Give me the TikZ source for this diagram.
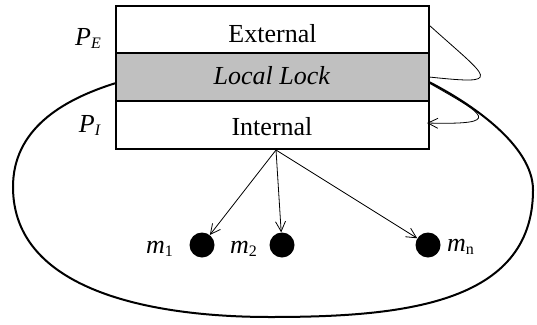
\documentclass[tikz,border=0pt]{standalone}
\usepackage{fontspec}
\setmainfont{Liberation Serif}
\usetikzlibrary{arrows.meta}
\newcommand{\subsz}{\fontsize{16}{16}\selectfont}
\begin{document}
\begin{tikzpicture}[x=1pt,y=1pt,
  row/.style={draw, line width=2pt, minimum width=313pt, inner sep=0pt, outer sep=0pt, anchor=north west},
  lbl/.style={font=\fontsize{26}{30}\selectfont, inner sep=0pt},
  dot/.style={circle, fill=black, minimum size=25pt, inner sep=0pt},
  arr/.style={-{Straight Barb[length=10pt,width=10pt]}, line width=0.8pt},
  thin/.style={line width=0.8pt},
  outer/.style={line width=2pt}]
\useasboundingbox (0,0) rectangle (537,-324);
% outer curve
\coordinate (oa) at (116,-83);
\coordinate (ol) at (13,-187);
\coordinate (ob) at (270,-317);
\coordinate (or) at (533,-190);
\coordinate (oc) at (429,-82);
\draw[outer] (oa) .. controls (61,-100) and (13,-130) .. (ol)
  .. controls (13,-290) and (150,-317) .. (ob)
  .. controls (400,-317) and (533,-305) .. (or)
  .. controls (533,-145) and (470,-103) .. (oc);
% box rows
\node[row, minimum height=47pt] (ext) at (116,-6) {};
\node[row, minimum height=48pt, fill={rgb,255:red,192;green,192;blue,192}] (lock) at (116,-53) {};
\node[row, minimum height=48pt] (int) at (116,-101) {};
\node[lbl, anchor=base] (tExt) at (272.5,-42) {External};
\node[lbl, anchor=base] (tLock) at (272,-84) {\textit{Local Lock}};
\node[lbl, anchor=base] (tInt) at (272,-135) {Internal};
\node[lbl, anchor=base east] (pe) at (101,-45) {\textit{P}\raisebox{-3.5pt}{\subsz\textit{E}}};
\node[lbl, anchor=base east] (pi) at (101,-132) {\textit{P}\raisebox{-3.5pt}{\subsz\textit{I}}};
% dots
\node[dot] (m1) at (202,-245) {};
\node[dot] (m2) at (282,-245) {};
\node[dot] (mn) at (428,-245) {};
\node[lbl, anchor=base east] (l1) at (173,-253) {\textit{m}\raisebox{-3.5pt}{\subsz 1}};
\node[lbl, anchor=base east] (l2) at (257,-253) {\textit{m}\raisebox{-3.5pt}{\subsz 2}};
\node[lbl, anchor=base west] (ln) at (447,-251) {\textit{m}\raisebox{-3.5pt}{\subsz n}};
% arrows
\coordinate (src) at (276,-150);
\draw[arr] (src) -- (m1);
\draw[arr] (src) -- (m2);
\draw[arr] (src) -- (mn);
% loops
\coordinate (la) at (429,-25);
\coordinate (lb) at (429,-77);
\coordinate (lc) at (429,-83);
\coordinate (ld) at (427,-123);
\draw[thin] (la) .. controls (490,-80) and (505,-85) .. (lb);
\draw[arr] (lc) .. controls (485,-115) and (505,-125) .. (ld);
\end{tikzpicture}
\end{document}
